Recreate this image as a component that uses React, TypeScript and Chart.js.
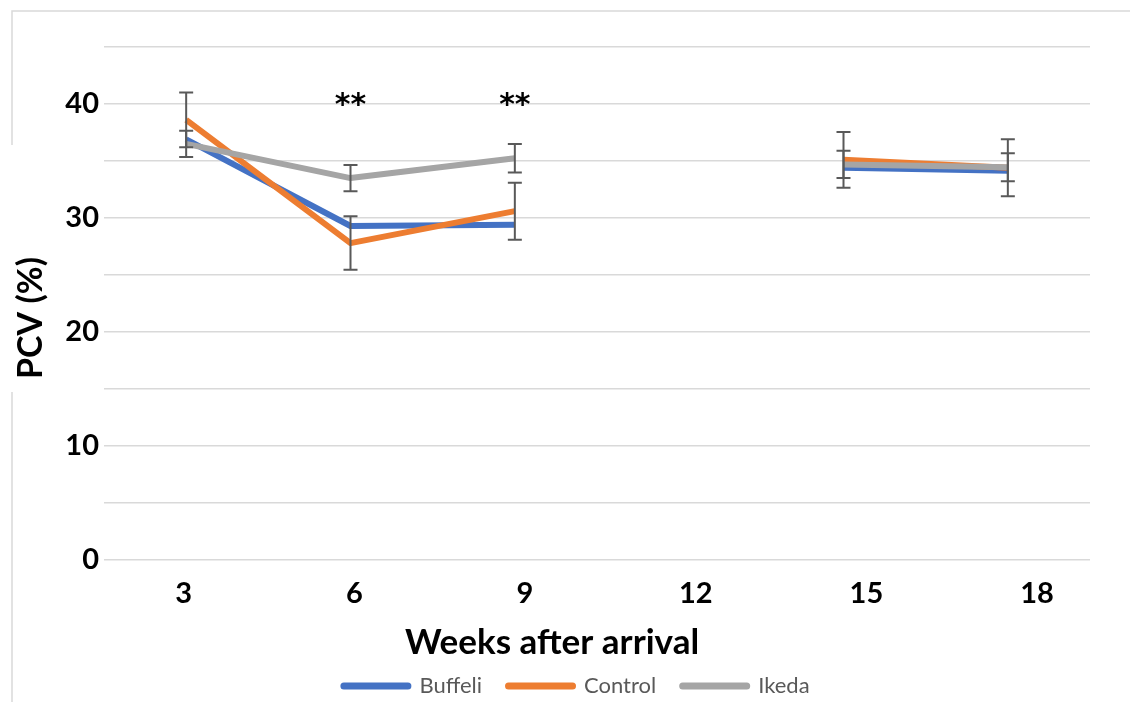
import React, { useEffect, useRef } from "react";
import { Chart, registerables } from "chart.js";

Chart.register(...registerables);

// Sampling weeks (category axis for the series, numeric ticks for the labels)
const weeks = ["3", "6", "9", "12", "15", "18"];
const weekTicks = [3, 6, 9, 12, 15, 18];

// Mean PCV (%) per group; week 12 was not sampled
const buffeli = [36.9, 29.3, 29.4, null, 34.4, 34.15];
const control = [38.6, 27.8, 30.6, null, 35.1, 34.4];
const ikeda = [36.5, 33.5, 35.25, null, 34.7, 34.45];

// Error bar half-widths (Control and Ikeda groups)
const controlErr = [2.4, 2.35, 2.5, null, 2.45, 2.5];
const ikedaErr = [1.15, 1.15, 1.25, null, 1.2, 1.23];

// Weeks marked as significant
const starredWeeks = ["6", "9"];
const starLevel = 40.5;

const FONT = "Lato, 'Open Sans', 'DejaVu Sans', sans-serif";

const decorPlugin = {
  id: "pcvDecor",
  beforeDraw(chart: any) {
    const ctx = chart.ctx;
    ctx.save();
    ctx.strokeStyle = "#d9d9d9";
    ctx.lineWidth = 1.5;
    ctx.beginPath();
    ctx.moveTo(12, 145);
    ctx.lineTo(12, 11);
    ctx.lineTo(1130, 11);
    ctx.moveTo(12, 392);
    ctx.lineTo(12, 702);
    ctx.stroke();
    ctx.restore();
  },
  afterDatasetsDraw(chart: any) {
    const ctx = chart.ctx;
    const xs = chart.scales.x;
    const ys = chart.scales.y;
    ctx.save();
    ctx.strokeStyle = "#595959";
    ctx.lineWidth = 2;
    const cap = 7;
    const drawBars = (means: (number | null)[], errs: (number | null)[]) => {
      means.forEach((m, i) => {
        const e = errs[i];
        if (m == null || e == null) return;
        const x = xs.getPixelForValue(i);
        const yTop = ys.getPixelForValue(m + e);
        const yBot = ys.getPixelForValue(m - e);
        ctx.beginPath();
        ctx.moveTo(x, yTop);
        ctx.lineTo(x, yBot);
        ctx.moveTo(x - cap, yTop);
        ctx.lineTo(x + cap, yTop);
        ctx.moveTo(x - cap, yBot);
        ctx.lineTo(x + cap, yBot);
        ctx.stroke();
      });
    };
    drawBars(control, controlErr);
    drawBars(ikeda, ikedaErr);

    // significance markers
    ctx.fillStyle = "#000";
    ctx.font = `bold 30px 'DejaVu Sans', sans-serif`;
    ctx.textAlign = "center";
    ctx.textBaseline = "alphabetic";
    starredWeeks.forEach((w) => {
      const i = weeks.indexOf(w);
      const x = xs.getPixelForValue(i);
      const y = ys.getPixelForValue(starLevel);
      ctx.fillText("**", x, y + 16);
    });
    ctx.restore();
  },
  afterDraw(chart: any) {
    const ctx = chart.ctx;
    ctx.save();
    ctx.fillStyle = "#000";
    ctx.textAlign = "center";
    ctx.textBaseline = "middle";

    // x axis title
    ctx.font = `bold 35px ${FONT}`;
    ctx.fillText("Weeks after arrival", 552, 643);

    // y axis title
    ctx.save();
    ctx.translate(31, 318);
    ctx.rotate(-Math.PI / 2);
    ctx.font = `bold 34px ${FONT}`;
    ctx.fillText("PCV (%)", 0, 0);
    ctx.restore();

    // legend row
    ctx.font = `22px ${FONT}`;
    const sample = 71;
    const gapText = 8;
    const gapItem = 23;
    const items = chart.data.datasets.map((d: any) => ({
      label: d.label as string,
      color: d.borderColor as string,
      w: ctx.measureText(d.label).width,
    }));
    const total =
      items.reduce((s: number, it: any) => s + sample + gapText + it.w, 0) +
      gapItem * (items.length - 1);
    let x = 575 - total / 2;
    const y = 686;
    ctx.textAlign = "left";
    items.forEach((it: any) => {
      ctx.strokeStyle = it.color;
      ctx.lineWidth = 7;
      ctx.lineCap = "round";
      ctx.beginPath();
      ctx.moveTo(x + 3.5, y);
      ctx.lineTo(x + sample - 3.5, y);
      ctx.stroke();
      ctx.fillStyle = "#595959";
      ctx.fillText(it.label, x + sample + gapText, y);
      x += sample + gapText + it.w + gapItem;
    });
    ctx.restore();
  },
};

export default function App() {
  const canvasRef = useRef<HTMLCanvasElement | null>(null);

  useEffect(() => {
    if (!canvasRef.current) return;
    const lineStyle = {
      borderWidth: 6,
      pointRadius: 0,
      pointHoverRadius: 0,
      spanGaps: false,
      tension: 0,
      borderJoinStyle: "round" as const,
      fill: false,
    };
    const chart = new Chart(canvasRef.current, {
      type: "line",
      data: {
        labels: weeks,
        datasets: [
          { label: "Buffeli", data: buffeli, borderColor: "#4472C4", backgroundColor: "#4472C4", order: 3, ...lineStyle },
          { label: "Control", data: control, borderColor: "#ED7D31", backgroundColor: "#ED7D31", order: 2, ...lineStyle },
          { label: "Ikeda", data: ikeda, borderColor: "#A5A5A5", backgroundColor: "#A5A5A5", order: 1, ...lineStyle },
        ],
      },
      options: {
        responsive: false,
        animation: false,
        devicePixelRatio: 1,
        layout: { padding: { top: 47, right: 40, left: 0, bottom: 0 } },
        plugins: {
          legend: { display: false },
          tooltip: { enabled: false },
        },
        scales: {
          x: {
            type: "category",
            offset: true,
            display: false,
          },
          xLabel: {
            type: "linear",
            position: "bottom",
            min: 1.6,
            max: 18.93,
            afterBuildTicks: (axis: any) => {
              axis.ticks = weekTicks.map((v) => ({ value: v }));
            },
            afterFit: (axis: any) => {
              axis.height = 142;
            },
            grid: { display: false, drawTicks: false },
            border: { display: false },
            ticks: {
              padding: 16,
              color: "#000",
              font: { family: FONT, size: 29, weight: "bold" },
              callback: (v: any) => String(v),
            },
          },
          y: {
            min: 0,
            max: 45,
            afterFit: (axis: any) => {
              axis.width = 104;
            },
            grid: { color: "#d9d9d9", lineWidth: 1.5, drawTicks: false },
            border: { display: false },
            ticks: {
              stepSize: 5,
              padding: 5,
              color: "#000",
              font: { family: FONT, size: 29, weight: "bold" },
              callback: (v: any) => (Number(v) % 10 === 0 && Number(v) <= 40 ? String(v) : ""),
            },
          },
        },
      },
      plugins: [decorPlugin],
    });
    return () => chart.destroy();
  }, []);

  return (
    <div style={{ position: "fixed", left: 0, top: 0, width: 1130, height: 702, background: "#fff" }}>
      <canvas ref={canvasRef} width={1130} height={702} />
    </div>
  );
}
